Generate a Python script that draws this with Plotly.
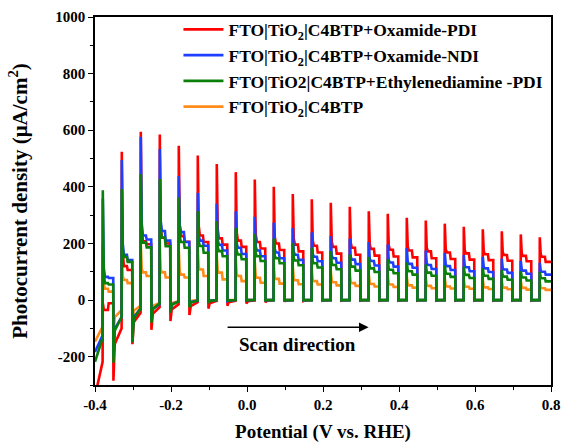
import plotly.graph_objects as go

# ---------------- data ----------------
# light-on potentials (V vs RHE) of the 24 chopped-light pulses
pulse_on = [-0.38, -0.33, -0.28, -0.23, -0.18, -0.13, -0.08, -0.03, 0.02, 0.07, 0.12, 0.17,
            0.22, 0.27, 0.32, 0.37, 0.42, 0.47, 0.52, 0.57, 0.62, 0.67, 0.72, 0.77]
pulse_off = [-0.352, -0.302, -0.252, -0.202, -0.152, -0.102, -0.052, -0.002, 0.048, 0.098, 0.148, 0.198,
             0.248, 0.298, 0.348, 0.398, 0.448, 0.498, 0.548, 0.598, 0.648, 0.698, 0.748, 0.8]
x_start = -0.4

# Oxamide-PDI (red)
red_start = -340
red_dark = [-218, -100, -45, -25, -15, -8, -3, -2, -1, 0, 0, 0, 0, 0, 0, 0, 0, 0, 0, 0, 0, 0, 0, 0]
red_peak = [-10, 524, 595, 585, 545, 511, 481, 452, 426, 400, 375, 356, 344, 330, 314, 305, 291, 281, 270, 259, 250, 243, 232, 222]
red_platA = [-35, 120, 208, 220, 226, 228, 218, 210, 205, 200, 196, 192, 188, 185, 181, 178, 175, 172, 168, 165, 162, 159, 156, 153]
red_platB = [-11, 106, 197, 200, 206, 205, 196, 188, 182, 177, 172, 168, 164, 160, 157, 154, 151, 148, 145, 143, 141, 139, 137, 135]
red_trans = [-285, -156, -105, -74, -53, -30, -20, -12, -8, -5, -3, -2, -2, -2, -2, -2, -2, -2, -2, -2, -2, -2, -2, -2]

# Oxamide-NDI (blue)
blue_start = -183
blue_dark = [-124, -60, -30, -15, -5, -2, 0, 0, 0, 0, 0, 0, 0, 0, 0, 0, 0, 0, 0, 0, 0, 0, 0, 0]
blue_peak = [358, 495, 577, 534, 438, 379, 341, 314, 294, 273, 255, 239, 226, 217, 205, 196, 184, 175, 167, 159, 153, 146, 138, 132]
blue_platA = [82, 160, 228, 244, 240, 210, 195, 185, 175, 168, 160, 153, 148, 143, 138, 133, 128, 124, 120, 116, 112, 108, 104, 100]
blue_platB = [78, 141, 214, 210, 205, 192, 175, 163, 155, 148, 142, 137, 132, 127, 122, 118, 114, 110, 106, 102, 99, 96, 93, 90]
blue_trans = [-200, -130, -70, -40, -20, -8, -3, -1, 0, 0, 0, 0, 0, 0, 0, 0, 0, 0, 0, 0, 0, 0, 0, 0]

# Ethylenediamine-PDI (green)
green_start = -218
green_dark = [-134, -60, -30, -12, -5, -2, 0, 0, 0, 0, 0, 0, 0, 0, 0, 0, 0, 0, 0, 0, 0, 0, 0, 0]
green_peak = [388, 392, 445, 428, 363, 314, 279, 255, 234, 217, 202, 185, 173, 161, 153, 144, 134, 126, 122, 118, 112, 106, 102, 99]
green_platA = [60, 152, 203, 221, 205, 191, 173, 161, 155, 148, 140, 130, 124, 118, 112, 107, 102, 97, 93, 89, 86, 83, 80, 77]
green_platB = [55, 135, 186, 190, 185, 167, 155, 144, 138, 130, 123, 115, 109, 104, 99, 95, 90, 86, 82, 78, 75, 72, 69, 66]
green_trans = [-221, -150, -80, -45, -25, -10, -4, -1, 0, 0, 0, 0, 0, 0, 0, 0, 0, 0, 0, 0, 0, 0, 0, 0]

# bare C4BTP (orange)
orange_start = -147
orange_dark = [-94, -35, -20, -10, -4, 0, 0, 0, 0, 0, 0, 0, 0, 0, 0, 0, 0, 0, 0, 0, 0, 0, 0, 0]
orange_peak = [200, 195, 200, 190, 180, 179, 155, 144, 135, 125, 118, 108, 102, 97, 92, 88, 84, 80, 77, 74, 72, 70, 68, 66]
orange_platA = [40, 71, 98, 98, 90, 108, 97, 85, 79, 75, 70, 67, 63, 60, 57, 55, 52, 50, 48, 47, 45, 44, 43, 42]
orange_platB = [30, 60, 85, 80, 80, 85, 73, 67, 61, 58, 56, 55, 52, 50, 48, 46, 44, 42, 41, 40, 39, 38, 37, 36]
orange_trans = [-120, -80, -45, -25, -10, -3, -1, 0, 0, 0, 0, 0, 0, 0, 0, 0, 0, 0, 0, 0, 0, 0, 0, 0]

names = ["FTO|TiO<sub>2</sub>|C4BTP+Oxamide-PDI",
         "FTO|TiO<sub>2</sub>|C4BTP+Oxamide-NDI",
         "FTO|TiO2|C4BTP+Ethylenediamine -PDI",
         "FTO|TiO<sub>2</sub>|C4BTP"]
colors = ["#ff0000", "#1f3fff", "#0a800a", "#ff8c1a"]

x_ticks = [-0.4, -0.2, 0.0, 0.2, 0.4, 0.6, 0.8]
x_ticktext = ["-0.4", "-0.2", "0.0", "0.2", "0.4", "0.6", "0.8"]
y_ticks = [-200, 0, 200, 400, 600, 800, 1000]
y_ticktext = ["-200", "0", "200", "400", "600", "800", "1000"]


def build(start, dark, peak, pa, pb, trans):
    xs, ys = [x_start], [start]
    n = len(pulse_on)
    for k in range(n):
        on, off = pulse_on[k], pulse_off[k]
        xs += [on, on + 0.0005, on + 0.003, on + 0.006, on + 0.014, on + 0.016, off]
        ys += [dark[k], peak[k], pa[k] + (peak[k] - pa[k]) * 0.12, pa[k], pa[k], pb[k], pb[k]]
        if k < n - 1:
            nd = dark[k + 1]
            xs += [off + 0.0005, off + 0.004]
            ys += [trans[k], nd + (trans[k] - nd) * 0.3]
    return xs, ys


series = [
    (red_start, red_dark, red_peak, red_platA, red_platB, red_trans),
    (blue_start, blue_dark, blue_peak, blue_platA, blue_platB, blue_trans),
    (green_start, green_dark, green_peak, green_platA, green_platB, green_trans),
    (orange_start, orange_dark, orange_peak, orange_platA, orange_platB, orange_trans),
]

fig = go.Figure()
draw_order = [3, 0, 1, 2]
for i in draw_order:
    xs, ys = build(*series[i])
    fig.add_trace(go.Scatter(x=xs, y=ys, mode="lines", name=names[i],
                             line=dict(color=colors[i], width=2.6),
                             legendrank=i + 1))

font_family = "Liberation Serif"

fig.update_layout(
    width=561, height=443,
    margin=dict(l=95, r=10, t=17, b=58, autoexpand=False),
    plot_bgcolor="white", paper_bgcolor="white",
    showlegend=True,
    legend=dict(x=0.183, y=1.015, xanchor="left", yanchor="top",
                bgcolor="rgba(0,0,0,0)", borderwidth=0,
                font=dict(family=font_family, size=17.5, color="black", weight="bold"),
                tracegroupgap=0, itemwidth=40),
    xaxis=dict(range=[-0.4, 0.8], tickmode="array", tickvals=x_ticks, ticktext=x_ticktext,
               ticks="outside", ticklen=5, tickwidth=1.3, tickcolor="black",
               showline=True, linecolor="black", linewidth=1.5, mirror=True,
               showgrid=False, zeroline=False, automargin=False,
               tickfont=dict(family=font_family, size=15, color="black", weight="bold"),
               minor=dict(tickmode="linear", tick0=-0.4, dtick=0.1, ticks="outside",
                          ticklen=3, tickwidth=1.1, tickcolor="black"),
               title=dict(text="Potential (V vs. RHE)", standoff=14,
                          font=dict(family=font_family, size=19, color="black", weight="bold"))),
    yaxis=dict(range=[-300, 1000], tickmode="array", tickvals=y_ticks, ticktext=y_ticktext,
               ticks="outside", ticklen=5, tickwidth=1.3, tickcolor="black",
               showline=True, linecolor="black", linewidth=1.5, mirror=True,
               showgrid=False, zeroline=False, automargin=False,
               tickfont=dict(family=font_family, size=15, color="black", weight="bold"),
               minor=dict(tickmode="linear", tick0=-300, dtick=100, ticks="outside",
                          ticklen=3, tickwidth=1.1, tickcolor="black"),
               title=dict(text="Photocurrent density (μA/cm<sup>2</sup>)", standoff=22,
                          font=dict(family=font_family, size=21, color="black", weight="bold"))),
)

# scan direction arrow and label
fig.add_annotation(x=0.32, y=-96, ax=-0.055, ay=-96, xref="x", yref="y", axref="x", ayref="y",
                   showarrow=True, arrowhead=2, arrowsize=1.2, arrowwidth=1.6, arrowcolor="black", text="")
fig.add_annotation(x=0.133, y=-158, xref="x", yref="y", showarrow=False, text="Scan direction",
                   font=dict(family=font_family, size=19, color="black", weight="bold"))

fig.write_html("out.html")
